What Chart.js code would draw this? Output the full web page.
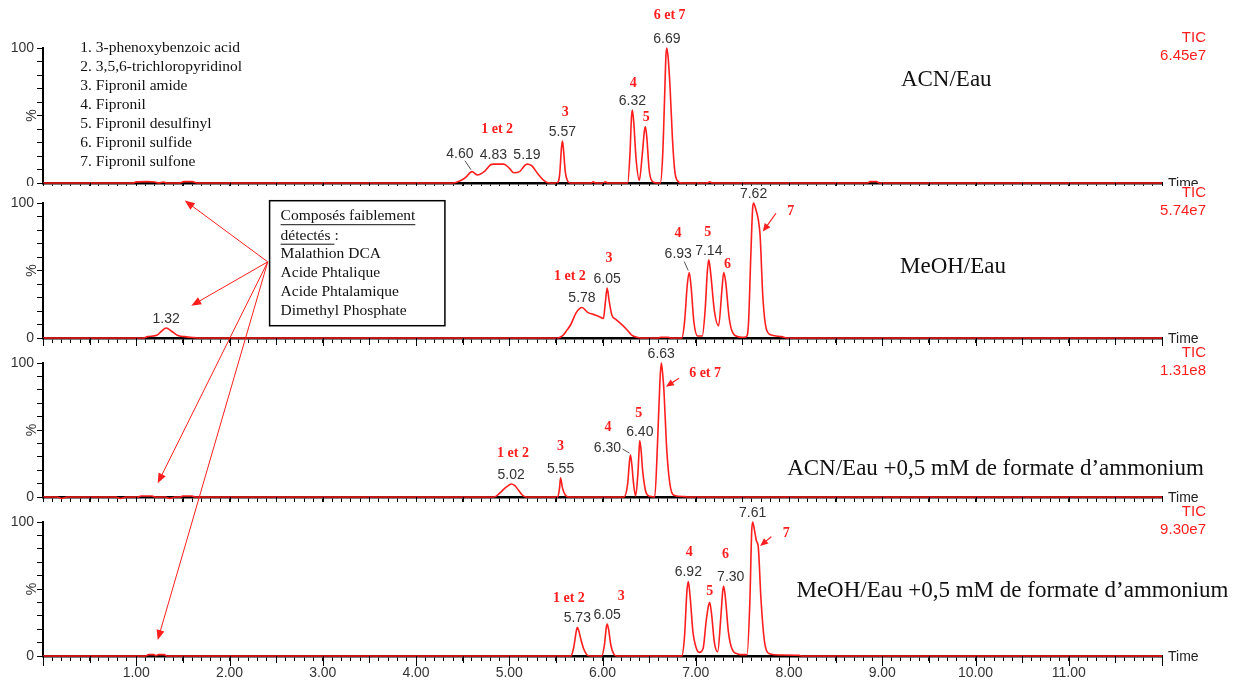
<!DOCTYPE html>
<html>
<head>
<meta charset="utf-8">
<script src="https://cdn.jsdelivr.net/npm/chart.js@4.4.1/dist/chart.umd.min.js"></script>
<style>
body { margin: 0; background: #fff; }
#wrap { position: relative; width: 1234px; height: 683px; overflow: hidden; background: #fff; }
#wrap canvas { position: absolute; left: 0; top: 0; }
</style>
</head>
<body>
<div id="wrap">
  <canvas id="c0" width="1234" height="683"></canvas>
  <canvas id="c1" width="1234" height="683"></canvas>
  <canvas id="c2" width="1234" height="683"></canvas>
  <canvas id="c3" width="1234" height="683"></canvas>
</div>
<script>
const acnEauTrace = [
  [0,0],[0.96,0],[1.0,0.8],[1.12,1],[1.2,0.7],[1.24,0],[1.29,0.7],[1.33,0],[1.47,0],[1.51,1],[1.6,1],[1.65,0],
  [4.40,0],[4.47,1.5],[4.53,4],[4.60,8.4],[4.66,5.9],[4.74,9],[4.80,13.5],[4.83,14],[4.94,14],[5.00,11],[5.05,7.6],
  [5.11,8.4],[5.16,12.5],[5.19,14],[5.24,12.8],[5.31,6.5],[5.37,2],[5.43,0],
  [5.51,0],[5.54,6],[5.56,26],[5.57,31],[5.58,26],[5.60,9],[5.63,1],[5.66,0],
  [5.88,0],[5.90,0.8],[5.93,0],[6.01,0],[6.03,0.8],[6.06,0],
  [6.27,0],[6.295,22],[6.31,48],[6.32,54],[6.335,45],[6.36,18],[6.395,2],[6.425,20],[6.45,39],[6.46,41.7],[6.475,34],[6.50,10],[6.53,1.5],[6.58,0],
  [6.62,0],[6.645,20],[6.665,61],[6.68,94],[6.69,100],[6.705,92],[6.725,70],[6.75,33],[6.775,9],[6.80,2],[6.85,0],
  [7.12,0],[7.15,0.8],[7.18,0],[8.84,0],[8.87,1],[8.94,1],[8.97,0],[12,0]
];
const meohEauTrace = [
  [0,0],[1.08,0],[1.12,1],[1.22,2],[1.27,5],[1.32,7.4],[1.38,5],[1.44,2],[1.52,1],[1.62,0.3],[1.68,0],
  [5.52,0],[5.57,1.5],[5.62,6],[5.66,10],[5.72,19],[5.78,22.6],[5.84,19],[5.90,17.5],[5.96,16],[6.01,14.5],
  [6.03,26],[6.05,37],[6.07,28],[6.10,17],[6.14,14],[6.19,11],[6.25,7],[6.31,2.4],[6.37,0.5],[6.42,0],
  [6.60,0],[6.62,0.6],[6.70,0.6],[6.73,0],
  [6.85,0],[6.88,12],[6.91,40],[6.93,48.5],[6.95,38],[6.98,12],[7.02,1.5],[7.07,1.5],[7.10,20],[7.125,50],[7.14,57.9],[7.16,48],[7.20,20],
  [7.245,9],[7.28,35],[7.30,48.5],[7.32,42],[7.36,14],[7.41,2.5],[7.50,0.5],
  [7.54,0.8],[7.565,10],[7.59,60],[7.61,96],[7.62,100],[7.645,95],[7.67,88],[7.69,76],[7.72,30],[7.76,6],[7.82,2],[7.92,1],[7.98,0],[12,0]
];
const acnFormTrace = [
  [0,0],[0.15,0],[0.2,-1],[0.26,0],[0.78,0],[0.83,-1],[0.89,0],[1.02,0],[1.05,0.7],[1.17,0.7],[1.2,0],
  [1.31,0],[1.36,-1],[1.42,0],[1.47,0],[1.5,0.8],[1.6,0.8],[1.63,0],
  [4.84,0],[4.90,3],[4.95,6.5],[4.99,8.5],[5.02,9.7],[5.06,8.5],[5.10,5],[5.14,1.5],[5.18,0],
  [5.52,0],[5.54,7],[5.55,14.4],[5.57,7],[5.60,1.5],[5.64,0],
  [6.23,0],[6.27,10],[6.29,27],[6.30,31.3],[6.315,24],[6.33,12],[6.355,0.7],[6.38,18],[6.395,38],[6.40,42],[6.415,34],[6.43,20],[6.47,2.7],[6.51,0.5],[6.56,0],
  [6.59,40],[6.615,85],[6.63,100],[6.645,92],[6.66,78],[6.685,40],[6.71,17],[6.74,4],[6.78,1],[6.88,0.3],[6.92,0],[12,0]
];
const meohFormTrace = [
  [0,0],[1.1,0],[1.13,1],[1.19,1],[1.21,0.3],[1.24,1],[1.30,1],[1.33,0],
  [5.66,0],[5.69,6],[5.72,19],[5.73,21.4],[5.745,19],[5.77,12],[5.80,5],[5.84,0.5],[5.88,0],
  [5.99,0],[6.02,8],[6.04,21],[6.05,23.9],[6.065,20],[6.09,8],[6.12,1.5],[6.15,0],
  [6.85,0],[6.88,15],[6.905,48],[6.92,55.5],[6.94,44],[6.97,18],[7.01,5],[7.04,2.7],[7.08,6],[7.11,25],[7.135,37],[7.15,39.8],[7.17,31],[7.20,10],
  [7.235,3.2],[7.27,30],[7.29,49],[7.30,52],[7.32,42],[7.35,18],[7.39,5],[7.45,1.5],[7.49,1],
  [7.55,1],[7.58,40],[7.60,93],[7.61,100],[7.63,94],[7.65,86],[7.67,81.6],[7.70,41.8],[7.74,9.5],[7.80,1.5],[7.9,0.8],[8.11,0.5],[8.13,0],[12,0]
];

// temps de rétention affichés : [tR, hauteur du pic %]
const acnEauRt = [[4.60, 8.4], [4.83, 14], [5.19, 14], [5.57, 31], [6.32, 54], [6.69, 100]];
const meohEauRt = [[1.32, 7.4], [5.78, 22.6], [6.05, 37], [6.93, 48.5], [7.14, 57.9], [7.62, 100]];
const acnFormRt = [[5.02, 9.7], [5.55, 14.4], [6.30, 31.3], [6.40, 42], [6.63, 100]];
const meohFormRt = [[5.73, 21.4], [6.05, 23.9], [6.92, 55.5], [7.30, 52], [7.61, 100]];

// numéros des composés (rouge) : [texte, temps, %]
const acnEauMarks = [['1 et 2', 4.87, 40], ['3', 5.60, 52.6], ['4', 6.33, 74], ['5', 6.47, 48.9], ['6 et 7', 6.72, 124]];
const meohEauMarks = [['1 et 2', 5.65, 45.5], ['3', 6.07, 58.6], ['4', 6.81, 77.6], ['5', 7.13, 78], ['6', 7.34, 54.2], ['7', 8.02, 93.6]];
const acnFormMarks = [['1 et 2', 5.04, 32.6], ['3', 5.55, 38], ['4', 6.06, 52], ['5', 6.39, 62.5], ['6 et 7', 7.10, 92.3]];
const meohFormMarks = [['1 et 2', 5.64, 43], ['3', 6.20, 44.3], ['4', 6.93, 77.4], ['5', 7.15, 48], ['6', 7.32, 76.1], ['7', 7.97, 91.6]];

const ticValues = ['6.45e7', '5.74e7', '1.31e8', '9.30e7'];
const conditionTitles = ['ACN/Eau', 'MeOH/Eau', 'ACN/Eau +0,5 mM de formate d\u2019ammonium', 'MeOH/Eau +0,5 mM de formate d\u2019ammonium'];
const compoundNames = ['1. 3-phenoxybenzoic acid', '2. 3,5,6-trichloropyridinol', '3. Fipronil amide', '4. Fipronil',
  '5. Fipronil desulfinyl', '6. Fipronil sulfide', '7. Fipronil sulfone'];
const faintCompounds = ['Malathion DCA', 'Acide Phtalique', 'Acide Phtalamique', 'Dimethyl Phosphate'];
const xLabelTimes = [1, 2, 3, 4, 5, 6, 7, 8, 9, 10, 11];

const sans = "'Liberation Sans', Arial, sans-serif";
const serif = "'Liberation Serif', 'Times New Roman', serif";
const red = 'rgb(255,30,30)';

// mise en page des 4 panneaux (pixels de la page)
const panels = [
  { trace: acnEauTrace, rt: acnEauRt, marks: acnEauMarks, top: 48, bottom: 183, cover: null,
    titleAt: [9.20, 76.3], shifts: { 0: [-12, -18, 5, 7] }, smallArrow: null },
  { trace: meohEauTrace, rt: meohEauRt, marks: meohEauMarks, top: 203, bottom: 338, cover: 186,
    titleAt: [9.19, 52.7], shifts: { 3: [-11, -18, 6, 7] }, smallArrow: [7.86, 92.4, 7.72, 78.8] },
  { trace: acnFormTrace, rt: acnFormRt, marks: acnFormMarks, top: 363, bottom: 497, cover: 346,
    titleAt: [7.98, 20.9], shifts: { 2: [-23, -7, 15, 1] }, smallArrow: [6.82, 88.6, 6.68, 82.3] },
  { trace: meohFormTrace, rt: meohFormRt, marks: meohFormMarks, top: 522, bottom: 656, cover: 502,
    titleAt: [8.08, 48.5], shifts: { 3: [7, -9] }, smallArrow: [7.81, 89, 7.69, 82.1], labels: true }
];

const charts = [];
let chartLast = null;

function arrow(ctx, x1, y1, x2, y2, len, wid) {
  const a = Math.atan2(y2 - y1, x2 - x1);
  ctx.beginPath();
  ctx.moveTo(x1, y1);
  ctx.lineTo(x2 - Math.cos(a) * len * 0.8, y2 - Math.sin(a) * len * 0.8);
  ctx.stroke();
  ctx.beginPath();
  ctx.moveTo(x2, y2);
  ctx.lineTo(x2 - Math.cos(a) * len + Math.sin(a) * wid / 2, y2 - Math.sin(a) * len - Math.cos(a) * wid / 2);
  ctx.lineTo(x2 - Math.cos(a) * len - Math.sin(a) * wid / 2, y2 - Math.sin(a) * len + Math.cos(a) * wid / 2);
  ctx.closePath();
  ctx.fill();
}

function drawPanel(chart, p, i) {
  const ctx = chart.ctx, area = chart.chartArea;
  const X = t => chart.scales.x.getPixelForValue(t);
  const Y = v => chart.scales.y.getPixelForValue(v);
  ctx.save();

  // graduations longues (unités et demi-unités)
  ctx.strokeStyle = '#000';
  ctx.lineWidth = 1;
  ctx.beginPath();
  for (let k = 0; k <= 24; k++) {
    const x = Math.round(X(k / 2)) + 0.5;
    ctx.moveTo(x, area.bottom);
    ctx.lineTo(x, area.bottom + (k % 2 === 0 ? 10 : 7));
  }
  ctx.stroke();

  // % et Time
  ctx.fillStyle = '#333';
  ctx.font = '14px ' + sans;
  ctx.textAlign = 'center';
  ctx.textBaseline = 'middle';
  ctx.save();
  ctx.translate(area.left - 11, (area.top + area.bottom) / 2);
  ctx.rotate(-Math.PI / 2);
  ctx.fillText('%', 0, 0);
  ctx.restore();
  ctx.textAlign = 'left';
  ctx.fillStyle = '#222';
  ctx.fillText('Time', area.right + 6, area.bottom + 1);

  // TIC
  ctx.fillStyle = red;
  ctx.font = '15px ' + sans;
  ctx.textAlign = 'right';
  ctx.fillText('TIC', area.right + 44, area.top - 10);
  ctx.fillText(ticValues[i], area.right + 44, area.top + 8);

  // titre de la condition
  ctx.fillStyle = '#111';
  ctx.font = '23px ' + serif;
  ctx.textAlign = 'left';
  ctx.fillText(conditionTitles[i], X(p.titleAt[0]), Y(p.titleAt[1]));

  // temps de rétention
  ctx.font = '14px ' + sans;
  ctx.textAlign = 'center';
  p.rt.forEach((r, k) => {
    const s = p.shifts[k] || [0, -9];
    const ax = X(r[0]), ay = Y(r[1]);
    const cx = ax + s[0], cy = ay + s[1];
    ctx.fillStyle = '#333';
    ctx.fillText(r[0].toFixed(2), cx, cy);
    if (s.length > 2) {
      ctx.strokeStyle = '#555';
      ctx.beginPath();
      ctx.moveTo(cx + s[2], cy + s[3]);
      ctx.lineTo(ax - 1, ay - 2);
      ctx.stroke();
    }
  });

  // numéros des composés
  ctx.fillStyle = red;
  ctx.font = 'bold 14px ' + serif;
  p.marks.forEach(m => ctx.fillText(m[0], X(m[1]), Y(m[2])));
  if (p.smallArrow) {
    const a = p.smallArrow;
    ctx.strokeStyle = red;
    ctx.lineWidth = 1.2;
    arrow(ctx, X(a[0]), Y(a[1]), X(a[2]), Y(a[3]), 8, 7);
  }

  // liste des composés (panneau 1)
  if (i === 0) {
    ctx.fillStyle = '#111';
    ctx.font = '15.5px ' + serif;
    ctx.textAlign = 'left';
    compoundNames.forEach((n, k) => ctx.fillText(n, X(0.40), Y(100.2) + k * 19));
  }

  // encadré + flèches (dessinés par dessus tout)
  if (i === 3) drawOverlay(ctx);
  ctx.restore();
}

function drawOverlay(ctx) {
  const s1 = charts[0].scales, s2 = charts[1].scales, s3 = charts[2].scales, s4 = chartLast.scales;
  const P = (s, t, v) => [s.x.getPixelForValue(t), s.y.getPixelForValue(v)];
  const src = P(s2, 2.41, 56.4);
  const targets = [P(s1, 1.52, -13), P(s2, 1.59, 23.9), P(s3, 1.23, 10.2), P(s4, 1.23, 11.9)];
  ctx.strokeStyle = red;
  ctx.fillStyle = red;
  ctx.lineWidth = 1;
  targets.forEach(tg => arrow(ctx, src[0], src[1], tg[0], tg[1], 10, 8));

  const tl = P(s2, 2.43, 101.7), br = P(s2, 4.31, 9.1);
  ctx.fillStyle = '#fff';
  ctx.fillRect(tl[0], tl[1], br[0] - tl[0], br[1] - tl[1]);
  ctx.strokeStyle = '#000';
  ctx.lineWidth = 1.5;
  ctx.strokeRect(tl[0], tl[1], br[0] - tl[0], br[1] - tl[1]);

  ctx.fillStyle = '#111';
  ctx.font = '15.5px ' + serif;
  ctx.textAlign = 'left';
  ctx.textBaseline = 'middle';
  const lx = tl[0] + 11;
  let ly = tl[1] + 15.5;
  const head = ['Compos\u00e9s faiblement', 'd\u00e9tect\u00e9s '];
  ctx.lineWidth = 1;
  ctx.strokeStyle = '#111';
  head.forEach((h, k) => {
    ctx.fillText(h, lx, ly);
    const w = ctx.measureText(h).width;
    ctx.beginPath();
    ctx.moveTo(lx, ly + 8.5);
    ctx.lineTo(lx + w, ly + 8.5);
    ctx.stroke();
    if (k === 1) ctx.fillText(':', lx + w, ly);
    ly += 19.5;
  });
  ly -= 1.5;
  faintCompounds.forEach(c => { ctx.fillText(c, lx, ly); ly += 19.2; });
}

function makeChart(p, i) {
  return new Chart(document.getElementById('c' + i), {
    type: 'line',
    data: {
      datasets: [{
        data: p.trace.map(d => ({ x: d[0], y: d[1] })),
        borderColor: red,
        borderWidth: 1.6,
        pointRadius: 0,
        fill: false,
        cubicInterpolationMode: 'monotone',
        clip: { left: 0, right: 0, top: 8, bottom: 8 }
      }]
    },
    options: {
      responsive: false,
      animation: false,
      devicePixelRatio: 1,
      events: [],
      layout: { padding: { top: p.top, right: 72, left: 0, bottom: 0 } },
      plugins: { legend: { display: false }, tooltip: { enabled: false } },
      scales: {
        x: {
          type: 'linear', min: 0, max: 12,
          afterFit: s => { s.height = 683 - p.bottom; },
          grid: { drawOnChartArea: false, tickLength: 5, color: '#000' },
          border: { color: '#000', width: 2.5 },
          ticks: {
            stepSize: 0.1, autoSkip: false, maxRotation: 0, minRotation: 0, padding: 4,
            color: '#333', font: { family: sans, size: 14 },
            callback: v => {
              const r = Math.round(v);
              return p.labels && Math.abs(v - r) < 1e-6 && xLabelTimes.includes(r) ? r.toFixed(2) : '';
            }
          }
        },
        y: {
          min: 0, max: 100,
          afterFit: s => { s.width = 43; },
          grid: { drawOnChartArea: false, tickLength: 6, color: '#000' },
          border: { color: '#000', width: 2 },
          ticks: {
            stepSize: 10, autoSkip: false, padding: 3,
            color: '#333', font: { family: sans, size: 14 },
            callback: v => (v === 0 || v === 100) ? String(v) : ''
          }
        }
      }
    },
    plugins: [{
      id: 'panel' + i,
      beforeDraw: c => {
        if (p.cover !== null) {
          c.ctx.save();
          c.ctx.fillStyle = '#fff';
          c.ctx.fillRect(0, p.cover, c.width, c.height - p.cover);
          c.ctx.restore();
        }
      },
      afterDraw: c => { if (i === 3) chartLast = c; drawPanel(c, p, i); }
    }]
  });
}

panels.forEach((p, i) => { charts.push(makeChart(p, i)); });
</script>
</body>
</html>
